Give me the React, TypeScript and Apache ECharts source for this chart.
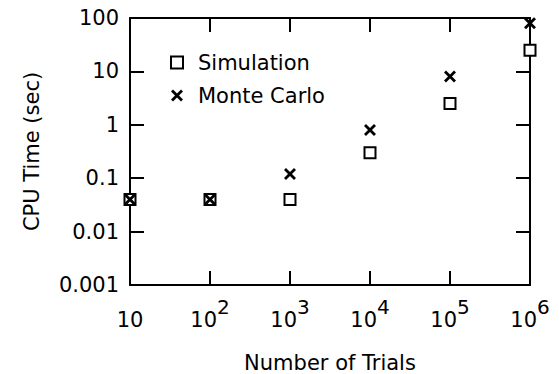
import React, { useEffect, useRef } from "react";
import * as echarts from "echarts";

const trials = [10, 100, 1000, 10000, 100000, 1000000];
const simulation = [0.04, 0.04, 0.04, 0.3, 2.5, 25];
const monteCarlo = [0.04, 0.04, 0.12, 0.8, 8, 80];
const yTickLabels = ["0.001", "0.01", "0.1", "1", "10", "100"];
const xTickBase = "10";
const xTickExponents = ["", "2", "3", "4", "5", "6"];
const seriesNames = ["Simulation", "Monte Carlo"];

const FONT = "DejaVu Sans";
const FS = 21;
const X_SYMBOL = "path://M0,2L2,0L6,4L10,0L12,2L8,6L12,10L10,12L6,8L2,12L0,10L4,6Z";

export default function App() {
  const ref = useRef<HTMLDivElement>(null);
  useEffect(() => {
    document.body.style.margin = "0";
    const chart = echarts.init(ref.current!, undefined, { renderer: "svg" });
    const lineStyle = { color: "#000", width: 2 };
    const xLabelFmt = (v: number) => {
      const i = Math.round(Math.log10(v)) - 1;
      const e = xTickExponents[i];
      return e ? `{b|${xTickBase}}{s|${e}}` : `{b|${xTickBase}}`;
    };
    const yLabelFmt = (v: number) => {
      const i = Math.round(Math.log10(v)) + 3;
      return yTickLabels[i] ?? "";
    };
    const xCommon = {
      type: "log" as const,
      logBase: 10,
      min: trials[0],
      max: trials[trials.length - 1],
      splitNumber: 5,
      axisLine: { show: true, lineStyle },
      axisTick: { show: true, inside: true, length: 14, lineStyle },
      minorTick: { show: false },
      splitLine: { show: false },
    };
    const yCommon = {
      type: "log" as const,
      logBase: 10,
      min: 0.001,
      max: 100,
      splitNumber: 5,
      axisLine: { show: true, lineStyle },
      axisTick: { show: true, inside: true, length: 14, lineStyle },
      minorTick: { show: false },
      splitLine: { show: false },
    };
    chart.setOption({
      animation: false,
      grid: {
        left: 130,
        right: 29,
        top: 18,
        bottom: 89,
        containLabel: false,
        outerBoundsMode: "none",
      },
      legend: {
        data: seriesNames,
        orient: "vertical",
        left: 170,
        top: 52,
        padding: 0,
        itemGap: 12,
        itemWidth: 12,
        itemHeight: 12,
        selectedMode: false,
        textStyle: {
          fontFamily: FONT,
          fontSize: FS,
          color: "#000",
          padding: [0, 0, 0, 10],
        },
      },
      xAxis: [
        {
          ...xCommon,
          position: "bottom",
          name: "Number of Trials",
          nameLocation: "middle",
          nameGap: 67,
          nameTextStyle: { fontFamily: FONT, fontSize: FS, color: "#000" },
          axisLabel: {
            show: true,
            interval: 0,
            margin: 12,
            formatter: xLabelFmt,
            rich: {
              b: {
                fontFamily: FONT,
                fontSize: FS,
                color: "#000",
                lineHeight: 33,
                verticalAlign: "bottom",
              },
              s: {
                fontFamily: FONT,
                fontSize: 20,
                color: "#000",
                lineHeight: 20,
                verticalAlign: "top",
              },
            },
          },
        },
        { ...xCommon, position: "top", axisLabel: { show: false } },
      ],
      yAxis: [
        {
          ...yCommon,
          position: "left",
          name: "CPU Time (sec)",
          nameLocation: "middle",
          nameGap: 88,
          nameTextStyle: { fontFamily: FONT, fontSize: FS, color: "#000" },
          axisLabel: {
            show: true,
            interval: 0,
            margin: 11,
            formatter: yLabelFmt,
            fontFamily: FONT,
            fontSize: FS,
            color: "#000",
          },
        },
        { ...yCommon, position: "right", axisLabel: { show: false } },
      ],
      series: [
        {
          name: seriesNames[0],
          type: "scatter",
          xAxisIndex: 0,
          yAxisIndex: 0,
          symbol: "rect",
          symbolSize: 11,
          itemStyle: { color: "#fff", borderColor: "#000", borderWidth: 2, opacity: 1 },
          data: trials.map((t, i) => [t, simulation[i]]),
          clip: false,
        },
        {
          name: seriesNames[1],
          type: "scatter",
          xAxisIndex: 0,
          yAxisIndex: 0,
          symbol: X_SYMBOL,
          symbolSize: 12,
          itemStyle: { color: "#000", opacity: 1 },
          data: trials.map((t, i) => [t, monteCarlo[i]]),
          clip: false,
        },
      ],
    });
    return () => chart.dispose();
  }, []);
  return <div ref={ref} style={{ width: 559, height: 374 }} />;
}
